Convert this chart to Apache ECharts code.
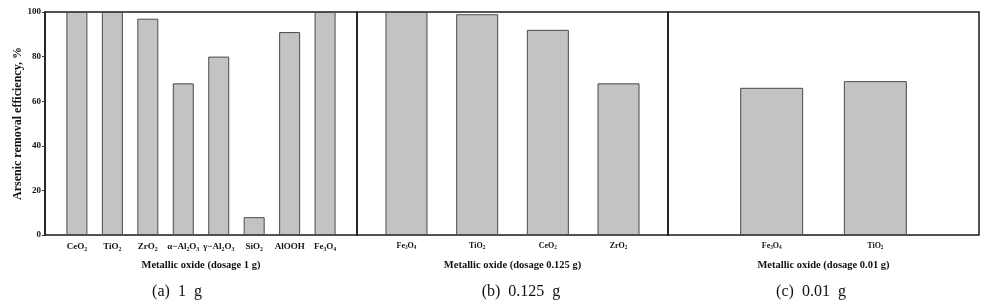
<!DOCTYPE html>
<html>
<head>
<meta charset="utf-8">
<script src="https://cdn.jsdelivr.net/npm/echarts@6/dist/echarts.min.js"></script>
<style>html,body{margin:0;padding:0;background:#fff;}#c{width:990px;height:304px;}</style>
</head>
<body>
<div id="c"></div>
<script>
// Data
const catsA = ['CeO{s|2}', 'TiO{s|2}', 'ZrO{s|2}', 'α−Al{s|2}O{s|3}', 'γ−Al{s|2}O{s|3}', 'SiO{s|2}', 'AlOOH', 'Fe{s|3}O{s|4}'];
const valsA = [100, 100, 97, 68, 80, 8, 91, 100];
const catsB = ['Fe{s|3}O{s|4}', 'TiO{s|2}', 'CeO{s|2}', 'ZrO{s|2}'];
const valsB = [100, 99, 92, 68];
const catsC = ['Fe{s|3}O{s|4}', 'TiO{s|2}'];
const valsC = [66, 69];
const yTicks = [0, 20, 40, 60, 80, 100];
const xTitles = ['Metallic oxide (dosage 1 g)', 'Metallic oxide (dosage 0.125 g)', 'Metallic oxide (dosage 0.01 g)'];
const captions = ['(a)  1  g', '(b)  0.125  g', '(c)  0.01  g'];
const yTitle = 'Arsenic removal efficiency, %';

const serif = '"Liberation Serif", "Times New Roman", "DejaVu Serif", serif';
const chart = echarts.init(document.getElementById('c'));

function toRich(s) {
  return s.split(/(\{s\|[^}]*\})/).filter(t => t.length).map(t => t.startsWith('{s|') ? t : '{n|' + t + '}').join('');
}

const panels = [
  {cats: catsA, vals: valsA, left: 45, width: 312, min: 0.1, max: 8.9, bw: 21, fs: 9},
  {cats: catsB, vals: valsB, left: 357, width: 311, min: 0.3, max: 4.7, bw: 42, fs: 8},
  {cats: catsC, vals: valsC, left: 668, width: 311, min: 0, max: 3, bw: 63, fs: 8}
];

const grid = [], xAxis = [], yAxis = [], series = [], graphic = [];
panels.forEach((p, i) => {
  grid.push({left: p.left, width: p.width, top: 12, bottom: 69, show: true,
    borderColor: '#1a1a1a', borderWidth: 1.5, backgroundColor: 'transparent', containLabel: false});
  const idxs = p.cats.map((c, k) => k + 1);
  xAxis.push({type: 'value', gridIndex: i, min: p.min, max: p.max,
    splitLine: {show: false}, axisLine: {show: false}, axisTick: {show: false},
    axisLabel: {customValues: idxs, margin: 7, color: '#111', fontFamily: serif, fontWeight: 'bold', fontSize: p.fs,
      formatter: v => { const c = p.cats[Math.round(v) - 1]; return c ? toRich(c) : ''; },
      rich: {
        n: {fontSize: p.fs, fontFamily: serif, fontWeight: 'bold', color: '#111'},
        s: {fontSize: p.fs * 0.65, fontFamily: serif, fontWeight: 'bold', color: '#111', padding: [p.fs * 0.45, 0, 0, 0]}
      }},
    name: xTitles[i], nameLocation: 'middle', nameGap: 25,
    nameTextStyle: {fontFamily: serif, fontWeight: 'bold', fontSize: 10.5, color: '#111'}});
  yAxis.push({type: 'value', gridIndex: i, min: 0, max: 100, interval: 20,
    splitLine: {show: false},
    axisLine: {show: i === 0, lineStyle: {color: '#1a1a1a', width: 1.5}},
    axisTick: {show: i === 0, length: 3, lineStyle: {color: '#333'}},
    axisLabel: {show: i === 0, margin: 4, color: '#111', fontFamily: serif, fontWeight: 'bold', fontSize: 9},
    name: i === 0 ? yTitle : '', nameLocation: 'middle', nameGap: 21,
    nameTextStyle: {fontFamily: serif, fontWeight: 'bold', fontSize: 12, color: '#111'}});
  series.push({type: 'bar', xAxisIndex: i, yAxisIndex: i, barWidth: p.bw,
    data: p.vals.map((v, k) => [k + 1, v]),
    itemStyle: {color: '#c3c3c3', borderColor: '#4a4a4a', borderWidth: 1},
    silent: true, animation: false});
});
const capX = [177, 521, 811];
captions.forEach((t, i) => {
  graphic.push({type: 'text', x: capX[i], y: 292, style: {text: t, font: '16px ' + serif,
    fill: '#111', textAlign: 'center', textVerticalAlign: 'middle'}});
});

chart.setOption({animation: false, grid, xAxis, yAxis, series, graphic});
</script>
</body>
</html>
